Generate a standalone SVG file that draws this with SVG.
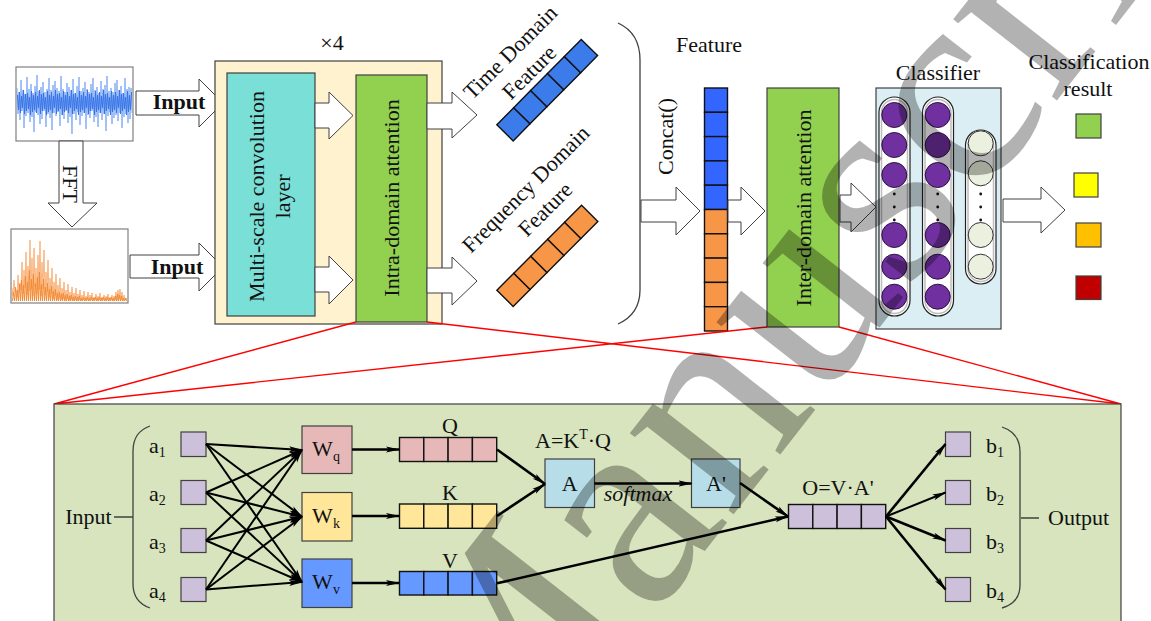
<svg xmlns="http://www.w3.org/2000/svg" width="1151" height="621" viewBox="0 0 1151 621">
  <style>
    .lbl { font-family: "Liberation Serif", "Times New Roman", serif; font-size: 22px; fill: #111; }
    .frame { fill: #fff; stroke: #808080; stroke-width: 1.2; }
    .box { stroke: #404040; stroke-width: 1.2; }
    .barrow { fill: #fff; stroke: #404040; stroke-width: 1; }
    .cell { stroke: #111; stroke-width: 1.4; }
    .zoom { stroke: #ff0000; stroke-width: 1.4; fill: none; }
    .brace { fill: none; stroke: #404040; stroke-width: 1.3; }
    .conn { fill: none; stroke: #000; stroke-width: 2; marker-end: url(#ah); }
    .conn2 { fill: none; stroke: #000; stroke-width: 2.6; marker-end: url(#ah); }
    .pill { fill: #fff; stroke: #222; stroke-width: 1.2; }
    .pillin { fill: none; stroke: #bdbdbd; stroke-width: 1.5; }
    .np { fill: #7030a0; stroke: #2a1040; stroke-width: 1; }
    .no { fill: #ebf1de; stroke: #333; stroke-width: 1; }
  </style>
  <defs>
    <marker id="ah" viewBox="0 0 14 8" markerWidth="14" markerHeight="8" refX="13" refY="4" orient="auto" markerUnits="userSpaceOnUse">
      <path d="M0,1 L14,4 L0,7 L3,4 z" fill="#000"/>
    </marker>
  </defs>

  <rect width="1151" height="621" fill="#fff"/>

  <!-- time-domain signal -->
  <g id="time-signal">
    <rect class="frame" x="16" y="67" width="117" height="74"/>
    <path fill="none" stroke="#6396f0" stroke-width="0.7" d="M17,88 L18,114 19,92 20,120 21,80 22,111 23,90 24,128 25,94 26,116 27,77 28,113 29,89 30,122 31,84 32,117 33,93 34,132 35,86 36,112 37,75 38,115 39,91 40,124 41,87 42,119 43,82 44,111 45,92 46,127 47,89 48,114 49,78 50,118 51,90 52,130 53,85 54,113 55,81 56,116 57,88 58,112 59,91 60,126 61,76 62,115 63,89 64,119 65,92 66,111 67,83 68,123 69,87 70,117 71,90 72,134 73,79 74,114 75,93 76,120 77,86 78,112 79,77 80,125 81,91 82,116 83,88 84,113 85,82 86,129 87,89 88,115 89,92 90,118 91,84 92,111 93,78 94,122 95,90 96,117 97,87 98,127 99,93 100,113 101,81 102,120 103,89 104,114 105,85 106,131 107,76 108,116 109,91 110,112 111,88 112,124 113,92 114,118 115,83 116,115 117,80 118,121 119,90 120,113 121,86 122,128 123,93 124,117 125,78 126,114 127,89 128,123 129,87 130,119 131,88 132,113"/>
    <path fill="none" stroke="#3573e8" stroke-width="1" d="M17.5,95 L18.5,110 19.5,92 20.5,113 21.5,96 22.5,108 23.5,90 24.5,114 25.5,94 26.5,111 27.5,93 28.5,109 29.5,97 30.5,115 31.5,91 32.5,112 33.5,95 34.5,110 35.5,92 36.5,113 37.5,96 38.5,108 39.5,90 40.5,114 41.5,94 42.5,111 43.5,93 44.5,109 45.5,97 46.5,115 47.5,91 48.5,112 49.5,95 50.5,110 51.5,92 52.5,113 53.5,96 54.5,108 55.5,90 56.5,114 57.5,94 58.5,111 59.5,93 60.5,109 61.5,97 62.5,115 63.5,91 64.5,112 65.5,95 66.5,110 67.5,92 68.5,113 69.5,96 70.5,108 71.5,90 72.5,114 73.5,94 74.5,111 75.5,93 76.5,109 77.5,97 78.5,115 79.5,91 80.5,112 81.5,95 82.5,110 83.5,92 84.5,113 85.5,96 86.5,108 87.5,90 88.5,114 89.5,94 90.5,111 91.5,93 92.5,109 93.5,97 94.5,115 95.5,91 96.5,112 97.5,95 98.5,110 99.5,92 100.5,113 101.5,96 102.5,108 103.5,90 104.5,114 105.5,94 106.5,111 107.5,93 108.5,109 109.5,97 110.5,115 111.5,91 112.5,112 113.5,95 114.5,110 115.5,92 116.5,113 117.5,96 118.5,108 119.5,90 120.5,114 121.5,94 122.5,111 123.5,93 124.5,109 125.5,97 126.5,115 127.5,91 128.5,112 129.5,95 130.5,110 131.5,92"/>
  </g>

  <!-- FFT arrow -->
  <g id="fft">
    <polygon class="barrow" points="59,141 83,141 83,203 97,203 72,227 48,203 59,203"/>
    <text class="lbl" font-size="19" transform="translate(71,184) rotate(90)" text-anchor="middle" dy="0.35em">FFT</text>
  </g>

  <!-- frequency-domain spectrum -->
  <g id="freq-signal">
    <rect class="frame" x="11" y="229" width="117" height="74"/>
    <path fill="none" stroke="#f8a462" stroke-width="0.8" d="M12,288 L13,296 14,280 15,292 16,290 17,297 18,275 19,293 20,283 21,290 22,262 23,294 24,270 25,288 26,252 27,295 28,266 29,291 30,240 31,289 32,258 33,296 34,248 35,287 36,268 37,294 38,255 39,290 40,241 41,296 42,262 43,289 44,250 45,295 46,272 47,292 48,260 49,297 50,278 51,294 52,268 53,299 54,282 55,296 56,274 57,300 58,285 59,298 60,278 61,300 62,288 63,299 64,282 65,301 66,290 67,299 68,284 69,301 70,292 71,300 72,287 73,301 74,293 75,300 76,288 77,301 78,294 79,300 80,290 81,301 82,295 83,300 84,291 85,301 86,296 87,300 88,292 89,301 90,295 91,300 92,293 93,301 94,297 95,300 96,294 97,301 98,296 99,300 100,293 101,301 102,297 103,300 104,295 105,301 106,296 107,300 108,294 109,301 110,297 111,300 112,295 113,301 114,296 115,300 116,292 117,301 118,290 119,299 120,289 121,300 122,292 123,301 124,295 125,300 126,298 127,301"/>
    <path fill="none" stroke="#f38a34" stroke-width="1" d="M12.5,301 L13.5,292 14.5,301 15.5,287 16.5,301 17.5,290 18.5,301 19.5,284 20.5,301 21.5,280 22.5,301 23.5,285 24.5,301 25.5,276 26.5,301 27.5,282 28.5,301 29.5,270 30.5,301 31.5,279 32.5,301 33.5,274 34.5,301 35.5,283 36.5,301 37.5,277 38.5,301 39.5,272 40.5,301 41.5,284 42.5,301 43.5,279 44.5,301 45.5,287 46.5,301 47.5,283 48.5,301 49.5,289 50.5,301 51.5,286 52.5,301 53.5,291 54.5,301 55.5,289 56.5,301 57.5,293 58.5,301 59.5,292 60.5,301 61.5,294 62.5,301 63.5,293 64.5,301 65.5,295 66.5,301 67.5,294 68.5,301 69.5,296 70.5,301 71.5,295 72.5,301 73.5,297 74.5,301 75.5,296 76.5,301 77.5,297 78.5,301 79.5,296 80.5,301 81.5,298 82.5,301 83.5,297 84.5,301 85.5,298 86.5,301 87.5,297 88.5,301 89.5,298 90.5,301 91.5,297 92.5,301 93.5,298 94.5,301 95.5,297 96.5,301 97.5,298 98.5,301 99.5,297 100.5,301 101.5,298 102.5,301 103.5,297 104.5,301 105.5,298 106.5,301 107.5,297 108.5,301 109.5,298 110.5,301 111.5,297 112.5,301 113.5,298 114.5,301 115.5,296 116.5,301 117.5,294 118.5,301 119.5,295 120.5,301 121.5,296 122.5,301 123.5,298 124.5,301 125.5,298 126.5,301"/>
  </g>

  <!-- input arrows -->
  <g id="input-time">
    <polygon class="barrow" points="136,91 199,91 199,79 223,103 199,127 199,115 136,115"/>
    <text class="lbl" font-size="20" font-weight="bold" x="179" y="108.5" text-anchor="middle">Input</text>
  </g>
  <g id="input-freq">
    <polygon class="barrow" points="130,255 199,255 199,243 223,267 199,291 199,278 130,278"/>
    <text class="lbl" font-size="20" font-weight="bold" x="177" y="273.5" text-anchor="middle">Input</text>
  </g>

  <!-- repeated encoder block -->
  <g id="encoder-x4">
    <rect class="box" x="215" y="61" width="227" height="263" fill="#fff2cf"/>
    <text class="lbl" font-size="20" x="332" y="50" text-anchor="middle">×4</text>
  </g>

  <g id="multiscale-conv">
    <rect class="box" x="227" y="73" width="88" height="243" fill="#7adfd6"/>
    <text class="lbl" transform="translate(264,196.5) rotate(-90)" text-anchor="middle">Multi-scale convolution</text>
    <text class="lbl" transform="translate(290,196.5) rotate(-90)" text-anchor="middle">layer</text>
  </g>

  <g id="conv-to-intra">
    <polygon class="barrow" points="315,103 329,103 329,92 353,115.5 329,139 329,128 315,128"/>
    <polygon class="barrow" points="315,267 329,267 329,256 353,280 329,304 329,292 315,292"/>
  </g>

  <g id="intra-attention">
    <rect class="box" x="356" y="75" width="71" height="247" fill="#92d050"/>
    <text class="lbl" transform="translate(391.5,198) rotate(-90)" text-anchor="middle" dy="0.35em">Intra-domain attention</text>
  </g>

  <g id="intra-to-features">
    <polygon class="barrow" points="427,103 452,103 452,92 477,115 452,138 452,129 427,129"/>
    <polygon class="barrow" points="427,268 452,268 452,257 477,281 452,305 452,293 427,293"/>
  </g>

  <!-- domain feature vectors -->
  <g id="time-feature">
    <g transform="translate(505,132.8) rotate(-45.3)" fill="#3b7bea">
      <rect class="cell" x="0" y="-11.5" width="24" height="23"/>
      <rect class="cell" x="24" y="-11.5" width="24" height="23"/>
      <rect class="cell" x="48" y="-11.5" width="24" height="23"/>
      <rect class="cell" x="72" y="-11.5" width="24" height="23"/>
      <rect class="cell" x="96" y="-11.5" width="24" height="23"/>
    </g>
    <text class="lbl" transform="translate(510,52) rotate(-45)" text-anchor="middle" dy="0.35em">Time Domain</text>
    <text class="lbl" transform="translate(529,72) rotate(-45)" text-anchor="middle" dy="0.35em">Feature</text>
  </g>

  <g id="freq-feature">
    <g transform="translate(505,298.3) rotate(-45.1)" fill="#f79646">
      <rect class="cell" x="0" y="-11.5" width="24" height="23"/>
      <rect class="cell" x="24" y="-11.5" width="24" height="23"/>
      <rect class="cell" x="48" y="-11.5" width="24" height="23"/>
      <rect class="cell" x="72" y="-11.5" width="24" height="23"/>
      <rect class="cell" x="96" y="-11.5" width="24" height="23"/>
    </g>
    <text class="lbl" transform="translate(527.5,190.8) rotate(-45)" text-anchor="middle" dy="0.22em">Frequency Domain</text>
    <text class="lbl" transform="translate(545,209) rotate(-45)" text-anchor="middle" dy="0.35em">Feature</text>
  </g>

  <!-- grouping bracket and concatenation -->
  <g id="concat">
    <path class="brace" d="M618,23 Q640,33 640,60 L640,290 Q640,314 618,324"/>
    <polygon class="barrow" points="641,200 676,200 676,187 700,211 676,235 676,222 641,222"/>
    <text class="lbl" transform="translate(665,136.5) rotate(-90)" text-anchor="middle" dy="0.35em">Concat()</text>
  </g>

  <g id="fused-feature">
    <text class="lbl" x="709" y="52" text-anchor="middle">Feature</text>
    <g fill="#3366ff">
      <rect class="cell" x="704.5" y="88" width="23" height="24.3"/>
      <rect class="cell" x="704.5" y="112.3" width="23" height="24.3"/>
      <rect class="cell" x="704.5" y="136.6" width="23" height="24.3"/>
      <rect class="cell" x="704.5" y="160.9" width="23" height="24.3"/>
      <rect class="cell" x="704.5" y="185.2" width="23" height="24.3"/>
    </g>
    <g fill="#f79646">
      <rect class="cell" x="704.5" y="209.5" width="23" height="24.3"/>
      <rect class="cell" x="704.5" y="233.8" width="23" height="24.3"/>
      <rect class="cell" x="704.5" y="258.1" width="23" height="24.3"/>
      <rect class="cell" x="704.5" y="282.4" width="23" height="24.3"/>
      <rect class="cell" x="704.5" y="306.7" width="23" height="24.3"/>
    </g>
  </g>

  <g id="feature-to-inter">
    <polygon class="barrow" points="728,200 741,200 741,187 765,211 741,235 741,222 728,222"/>
  </g>

  <g id="inter-attention">
    <rect class="box" x="767" y="88" width="72" height="239" fill="#92d050"/>
    <text class="lbl" transform="translate(803,208) rotate(-90)" text-anchor="middle" dy="0.35em">Inter-domain attention</text>
  </g>

  <g id="inter-to-classifier">
    <polygon class="barrow" points="840,195 851,195 851,183 876,207 851,232 851,222 840,222"/>
  </g>

  <!-- classifier -->
  <g id="classifier">
    <text class="lbl" x="938" y="80" text-anchor="middle">Classifier</text>
    <rect class="box" x="876" y="88" width="125" height="241" fill="#daeef3"/>
    <rect class="pill" x="879" y="97" width="31" height="219" rx="15.5"/>
    <rect class="pillin" x="881.5" y="99.5" width="26" height="214" rx="13"/>
    <rect class="pill" x="922.5" y="97" width="31" height="219" rx="15.5"/>
    <rect class="pillin" x="925" y="99.5" width="26" height="214" rx="13"/>
    <rect class="pill" x="965.5" y="130" width="30.5" height="154" rx="15.2"/>
    <rect class="pillin" x="968" y="132.5" width="25.5" height="149" rx="12.7"/>
    <g class="np">
      <circle cx="894.3" cy="115" r="12.5"/>
      <circle cx="894.3" cy="145" r="12.5"/>
      <circle cx="894.3" cy="175" r="12.5"/>
      <circle cx="894.3" cy="235" r="12.5"/>
      <circle cx="894.3" cy="266.7" r="12.5"/>
      <circle cx="894.3" cy="296.7" r="12.5"/>
      <circle cx="937.7" cy="115" r="12.5"/>
      <circle cx="937.7" cy="145" r="12.5"/>
      <circle cx="937.7" cy="175" r="12.5"/>
      <circle cx="937.7" cy="235" r="12.5"/>
      <circle cx="937.7" cy="266.7" r="12.5"/>
      <circle cx="937.7" cy="296.7" r="12.5"/>
    </g>
    <g class="no">
      <circle cx="980.7" cy="143.3" r="12.5"/>
      <circle cx="980.7" cy="173.3" r="12.5"/>
      <circle cx="980.7" cy="235" r="12.5"/>
      <circle cx="980.7" cy="266.7" r="12.5"/>
    </g>
    <g fill="#111">
      <circle cx="894.3" cy="194" r="1.4"/>
      <circle cx="894.3" cy="207" r="1.4"/>
      <circle cx="894.3" cy="220" r="1.4"/>
      <circle cx="937.7" cy="194" r="1.4"/>
      <circle cx="937.7" cy="207" r="1.4"/>
      <circle cx="937.7" cy="220" r="1.4"/>
      <circle cx="980.7" cy="194" r="1.4"/>
      <circle cx="980.7" cy="207" r="1.4"/>
      <circle cx="980.7" cy="220" r="1.4"/>
    </g>
  </g>

  <g id="classifier-to-result">
    <polygon class="barrow" points="1003,199 1041,199 1041,187 1065,210 1041,233 1041,222 1003,222"/>
  </g>

  <g id="result">
    <text class="lbl" x="1089" y="69" text-anchor="middle">Classification</text>
    <text class="lbl" x="1088" y="96" text-anchor="middle">result</text>
    <rect class="box" x="1076" y="114" width="25" height="24" fill="#92d050"/>
    <rect class="box" x="1074" y="173" width="24" height="24" fill="#ffff00"/>
    <rect class="box" x="1076" y="223" width="25" height="24" fill="#ffc000"/>
    <rect class="box" x="1076" y="276" width="25" height="23.5" fill="#c00000"/>
  </g>

  <!-- zoom-in guide lines -->
  <g id="zoom-lines">
    <path class="zoom" d="M356,322 L54,404 M427,322 L1121,404 M767,327 L54,404 M839,327 L1121,404"/>
  </g>

  <!-- attention detail panel -->
  <g id="attention-detail">
    <rect class="box" x="54" y="404" width="1067" height="230" fill="#d7e4bd"/>
  </g>

  <g id="input-brace">
    <text class="lbl" x="88.5" y="524" text-anchor="middle">Input</text>
    <path class="brace" d="M114,517 H133 M150,426 Q133,432 133,451 L133,584 Q133,602 150,608"/>
  </g>

  <g id="inputs-a">
    <g fill="#ccc0da" class="box">
      <rect x="181" y="432" width="25" height="24.5"/>
      <rect x="181" y="480.5" width="25" height="24"/>
      <rect x="181" y="528.5" width="25" height="24"/>
      <rect x="181" y="577.5" width="25" height="24"/>
    </g>
    <text class="lbl" x="149" y="452.5">a<tspan font-size="14" dy="4">1</tspan></text>
    <text class="lbl" x="149" y="501">a<tspan font-size="14" dy="4">2</tspan></text>
    <text class="lbl" x="149" y="549">a<tspan font-size="14" dy="4">3</tspan></text>
    <text class="lbl" x="149" y="597.5">a<tspan font-size="14" dy="4">4</tspan></text>
  </g>

  <g id="weights">
    <rect class="box" x="302" y="426" width="50" height="47.5" fill="#e6b9b8"/>
    <rect class="box" x="302" y="492.5" width="50" height="48.5" fill="#ffe699"/>
    <rect class="box" x="302" y="559" width="50" height="48.5" fill="#6699ff"/>
    <text class="lbl" x="326" y="456" text-anchor="middle">W<tspan font-size="14" dy="5">q</tspan></text>
    <text class="lbl" x="326" y="522.5" text-anchor="middle">W<tspan font-size="14" dy="5">k</tspan></text>
    <text class="lbl" x="326" y="589" text-anchor="middle">W<tspan font-size="14" dy="5">v</tspan></text>
  </g>

  <g id="qkv-vectors">
    <g fill="#e6b9b8">
      <rect class="cell" x="399.5" y="437.5" width="24.3" height="24"/>
      <rect class="cell" x="423.8" y="437.5" width="24.3" height="24"/>
      <rect class="cell" x="448.1" y="437.5" width="24.3" height="24"/>
      <rect class="cell" x="472.4" y="437.5" width="24.3" height="24"/>
    </g>
    <g fill="#ffe699">
      <rect class="cell" x="399.5" y="504" width="24.3" height="24.3"/>
      <rect class="cell" x="423.8" y="504" width="24.3" height="24.3"/>
      <rect class="cell" x="448.1" y="504" width="24.3" height="24.3"/>
      <rect class="cell" x="472.4" y="504" width="24.3" height="24.3"/>
    </g>
    <g fill="#6699ff">
      <rect class="cell" x="399.5" y="571.5" width="24.3" height="23.5"/>
      <rect class="cell" x="423.8" y="571.5" width="24.3" height="23.5"/>
      <rect class="cell" x="448.1" y="571.5" width="24.3" height="23.5"/>
      <rect class="cell" x="472.4" y="571.5" width="24.3" height="23.5"/>
    </g>
    <text class="lbl" x="450" y="433" text-anchor="middle">Q</text>
    <text class="lbl" x="450" y="500" text-anchor="middle">K</text>
    <text class="lbl" x="450" y="567.5" text-anchor="middle">V</text>
  </g>

  <g id="score-A">
    <text class="lbl" x="573" y="448" text-anchor="middle">A=K<tspan font-size="14" dy="-9">T</tspan><tspan dy="9">·Q</tspan></text>
    <rect class="box" x="545" y="459" width="49.5" height="48.5" fill="#b7dee8"/>
    <text class="lbl" x="569.7" y="491" text-anchor="middle">A</text>
  </g>

  <g id="softmax-A">
    <rect class="box" x="691.5" y="459" width="48.5" height="48.5" fill="#b7dee8"/>
    <text class="lbl" x="716" y="491" text-anchor="middle">A'</text>
    <text class="lbl" x="638" y="501" text-anchor="middle" font-style="italic">softmax</text>
  </g>

  <g id="output-O">
    <text class="lbl" x="838" y="495" text-anchor="middle">O=V·A'</text>
    <g fill="#ccc0da">
      <rect class="cell" x="788.5" y="504.5" width="24.3" height="24"/>
      <rect class="cell" x="812.8" y="504.5" width="24.3" height="24"/>
      <rect class="cell" x="837.1" y="504.5" width="24.3" height="24"/>
      <rect class="cell" x="861.4" y="504.5" width="24.3" height="24"/>
    </g>
  </g>

  <g id="outputs-b">
    <g fill="#ccc0da" class="box">
      <rect x="945.5" y="432" width="25" height="24.5"/>
      <rect x="945.5" y="480.5" width="25" height="24"/>
      <rect x="945.5" y="528.5" width="25" height="24"/>
      <rect x="945.5" y="577.5" width="25" height="24"/>
    </g>
    <text class="lbl" x="986" y="452.5">b<tspan font-size="14" dy="4">1</tspan></text>
    <text class="lbl" x="986" y="501">b<tspan font-size="14" dy="4">2</tspan></text>
    <text class="lbl" x="986" y="549">b<tspan font-size="14" dy="4">3</tspan></text>
    <text class="lbl" x="986" y="597.5">b<tspan font-size="14" dy="4">4</tspan></text>
  </g>

  <g id="output-brace">
    <path class="brace" d="M1002,427 Q1020,433 1020,452 L1020,585 Q1020,603 1002,608 M1021,518 H1039"/>
    <text class="lbl" x="1048" y="525">Output</text>
  </g>

  <!-- connectors of the attention detail -->
  <g id="connectors">
    <path class="conn" d="M206,444 L302,450"/>
    <path class="conn" d="M206,444 L302,516.7"/>
    <path class="conn" d="M206,444 L302,582"/>
    <path class="conn" d="M206,492.5 L302,450"/>
    <path class="conn" d="M206,492.5 L302,516.7"/>
    <path class="conn" d="M206,492.5 L302,582"/>
    <path class="conn" d="M206,540.5 L302,450"/>
    <path class="conn" d="M206,540.5 L302,516.7"/>
    <path class="conn" d="M206,540.5 L302,582"/>
    <path class="conn" d="M206,589.5 L302,450"/>
    <path class="conn" d="M206,589.5 L302,516.7"/>
    <path class="conn" d="M206,589.5 L302,582"/>
    <path class="conn2" d="M352,449.5 L399,449.5"/>
    <path class="conn2" d="M352,516 L399,516"/>
    <path class="conn2" d="M352,583 L399,583"/>
    <path class="conn2" d="M497,449.5 L545,484"/>
    <path class="conn2" d="M497,516 L545,484"/>
    <path class="conn2" d="M594.5,483.5 L691.5,483.5"/>
    <path class="conn2" d="M740,483 L788,516.5"/>
    <path class="conn2" d="M497,583.3 L788,516.5"/>
    <path class="conn2" d="M886,516.5 L945.5,444"/>
    <path class="conn" d="M886,516.5 L945.5,492.5"/>
    <path class="conn2" d="M886,516.5 L945.5,540.5"/>
    <path class="conn2" d="M886,516.5 L945.5,589.5"/>
  </g>

  <!-- manuscript watermark -->
  <g id="watermark">
    <text font-family="'Liberation Serif', 'Times New Roman', serif" font-size="287" fill="#000" fill-opacity="0.3" transform="translate(494,821) rotate(-52)">Manuscript</text>
  </g>
</svg>
